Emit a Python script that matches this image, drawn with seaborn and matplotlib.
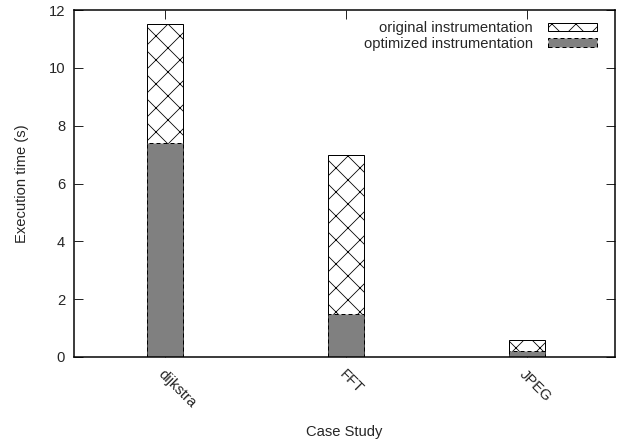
import matplotlib
matplotlib.use("Agg")
import matplotlib.pyplot as plt
import seaborn as sns
import pandas as pd
from matplotlib.patches import Patch

cases = ["dijkstra", "FFT", "JPEG"]
original = [11.5, 7.0, 0.6]
optimized = [7.4, 1.5, 0.2]
yticks = [0, 2, 4, 6, 8, 10, 12]

sns.set_style("white")
plt.rcParams['font.family'] = ['Liberation Sans', 'DejaVu Sans']
plt.rcParams['hatch.linewidth'] = 0.8

FS = 14.8

df = pd.DataFrame({"case": cases, "original": original, "optimized": optimized})

fig = plt.figure(figsize=(623/72, 448/72), dpi=72)
ax = fig.add_axes([74/623, 1-357/448, 541/623, 347/448])

sns.barplot(data=df, x="case", y="original", color="white", width=0.2,
            edgecolor="black", linewidth=1.0, ax=ax, saturation=1)
n = len(cases)
for p in ax.patches[:n]:
    p.set_hatch("x")
sns.barplot(data=df, x="case", y="optimized", color="#808080", width=0.2,
            edgecolor="black", linewidth=1.0, ax=ax, saturation=1)
for p in ax.patches[n:]:
    p.set_linestyle((0, (4, 3)))

ax.set_xlim(-0.503, 2.486)
ax.set_ylim(0, 12)
ax.set_yticks(yticks)
ax.set_yticklabels([str(v) for v in yticks], fontsize=FS)
ax.set_xticks(range(n))
ax.set_xticklabels(cases, rotation=-45, ha="left", rotation_mode="anchor", fontsize=FS)
ax.tick_params(direction="in", length=9, width=1.0, top=True, right=True, bottom=True, left=True)
ax.tick_params(axis="y", pad=9)
ax.tick_params(axis="x", pad=10)
for s in ax.spines.values():
    s.set_linewidth(1.5)
    s.set_color("black")

ax.set_xlabel("Case Study", fontsize=FS, labelpad=15)
ax.set_ylabel("Execution time (s)", fontsize=FS, labelpad=19)

handles = [Patch(facecolor="white", edgecolor="black", hatch="x", linewidth=1.0),
           Patch(facecolor="#808080", edgecolor="black", linestyle=(0, (4, 3)), linewidth=1.0)]
ax.legend(handles, ["original instrumentation", "optimized instrumentation"],
          loc="upper right", frameon=False, markerfirst=False, fontsize=FS,
          handlelength=3.3, handleheight=0.5, handletextpad=1.0, labelspacing=0.1,
          borderaxespad=0.0, bbox_to_anchor=(0.977, 0.985))

fig.savefig("out.png", dpi=72)
